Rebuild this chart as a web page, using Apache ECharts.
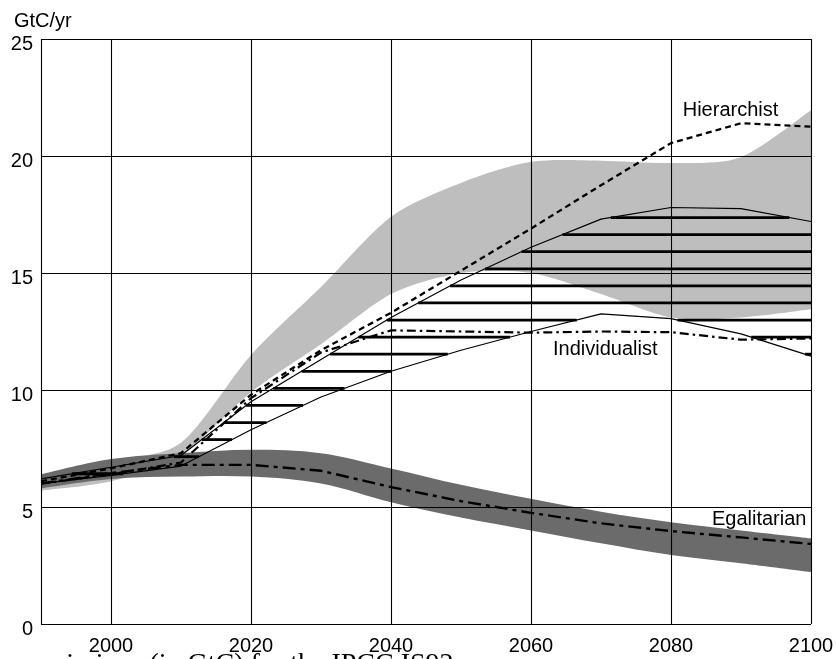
<!DOCTYPE html>
<html>
<head>
<meta charset="utf-8">
<script src="https://cdn.jsdelivr.net/npm/echarts@6/dist/echarts.min.js"></script>
<style>
html,body{margin:0;padding:0;background:#fff;}
#chart{width:837px;height:659px;}
</style>
</head>
<body>
<div id="chart"></div>
<script>
// ---- data ----
const years = [1990, 2000, 2010, 2020, 2030, 2040, 2050, 2060, 2070, 2080, 2090, 2100];

// light grey range
const lightLower = [5.7, 6.1, 7.2, 9.9, 11.95, 14.1, 15.0, 15.0, 14.1, 13.1, 13.1, 13.45];
const lightUpper = [6.3, 7.0, 7.75, 11.5, 14.4, 17.4, 18.85, 19.75, 19.8, 19.7, 19.95, 21.95];

// dark grey range (Egalitarian)
const darkLower = [5.8, 6.2, 6.3, 6.3, 6.0, 5.2, 4.55, 4.0, 3.45, 2.95, 2.6, 2.22];
const darkUpper = [6.4, 7.05, 7.3, 7.45, 7.3, 6.65, 5.95, 5.35, 4.8, 4.35, 4.0, 3.66];

// hatched range boundaries
const hatchUpper = [6.2, 6.7, 7.2, 9.5, 11.3, 13.1, 14.7, 16.1, 17.3, 17.8, 17.75, 17.2];
const hatchLower = [6.0, 6.35, 6.75, 8.3, 9.7, 10.8, 11.7, 12.5, 13.25, 13.05, 12.4, 11.45];
const hatchLevels = [6.42, 7.15, 7.88, 8.61, 9.34, 10.07, 10.8, 11.53, 12.26, 12.99, 13.72, 14.45, 15.18, 15.91, 16.64, 17.37];

// scenario lines
const hierarchist = [6.1, 6.65, 7.3, 9.8, 11.7, 13.3, 15.1, 16.9, 18.75, 20.55, 21.4, 21.25];
const individualist = [6.0, 6.4, 6.9, 9.65, 11.6, 12.55, 12.5, 12.45, 12.5, 12.47, 12.15, 12.2];
const egalitarian = [6.0, 6.45, 6.8, 6.8, 6.55, 5.85, 5.25, 4.75, 4.3, 3.97, 3.7, 3.42];

// axes / grid
const gridYears = [1990, 2000, 2020, 2040, 2060, 2080, 2100];
const gridValues = [0, 5, 10, 15, 20, 25];

// ---- helpers ----
const pairs = arr => years.map((y, i) => [y, arr[i]]);

function linInterval(h0, h1) {
  if (h0 >= 0 && h1 >= 0) return [0, 1];
  if (h0 < 0 && h1 < 0) return null;
  const t = h0 / (h0 - h1);
  return h0 >= 0 ? [0, t] : [t, 1];
}
function hatchSegments(level) {
  const segs = [];
  let cur = null;
  for (let i = 0; i < years.length - 1; i++) {
    const a = linInterval(hatchUpper[i] - level, hatchUpper[i + 1] - level);
    const b = linInterval(level - hatchLower[i], level - hatchLower[i + 1]);
    if (!a || !b) { cur = null; continue; }
    const t0 = Math.max(a[0], b[0]), t1 = Math.min(a[1], b[1]);
    if (t1 <= t0) { cur = null; continue; }
    const x0 = years[i] + t0 * (years[i + 1] - years[i]);
    const x1 = years[i] + t1 * (years[i + 1] - years[i]);
    if (cur && Math.abs(cur[1] - x0) < 1e-6) cur[1] = x1;
    else { cur = [x0, x1, level]; segs.push(cur); }
  }
  return segs;
}
const hatchData = [];
hatchLevels.forEach(l => hatchSegments(l).forEach(s => hatchData.push(s)));

// smooth (Catmull-Rom style) path through pixel points
function smoothPath(pts, s, moveFirst) {
  let d = (moveFirst ? 'M' : 'L') + pts[0][0] + ' ' + pts[0][1];
  for (let i = 0; i < pts.length - 1; i++) {
    const p0 = pts[Math.max(i - 1, 0)], p1 = pts[i], p2 = pts[i + 1], p3 = pts[Math.min(i + 2, pts.length - 1)];
    const c1 = [p1[0] + (p2[0] - p0[0]) * s, p1[1] + (p2[1] - p0[1]) * s];
    const c2 = [p2[0] - (p3[0] - p1[0]) * s, p2[1] - (p3[1] - p1[1]) * s];
    d += ' C' + c1[0] + ' ' + c1[1] + ' ' + c2[0] + ' ' + c2[1] + ' ' + p2[0] + ' ' + p2[1];
  }
  return d;
}
function bandSeries(lower, upper, color, z, s) {
  return {
    type: 'custom', z: z, silent: true,
    data: [[years[0], lower[0]]], encode: {x: 0, y: 1},
    renderItem: (params, api) => {
      const top = years.map((y, i) => api.coord([y, upper[i]]));
      const bot = years.map((y, i) => api.coord([y, lower[i]])).reverse();
      const d = smoothPath(top, s, true) + ' ' + smoothPath(bot, s, false) + ' Z';
      return {type: 'path', shape: {pathData: d}, style: {fill: color}};
    }
  };
}

const FONT = '"Liberation Sans", Arial, Helvetica, sans-serif';

const chart = echarts.init(document.getElementById('chart'), null, {renderer: 'canvas'});
chart.setOption({
  animation: false,
  backgroundColor: '#fff',
  title: {
    text: 'GtC/yr', left: 9, top: 6,
    textStyle: {fontSize: 20, fontWeight: 'normal', color: '#000', fontFamily: FONT}
  },
  grid: {left: 41, right: 26, top: 39, bottom: 35},
  xAxis: {
    type: 'value', min: 1990, max: 2100, interval: 10,
    axisLine: {show: false}, axisTick: {show: false}, splitLine: {show: false},
    axisLabel: {
      color: '#000', fontSize: 20, fontFamily: FONT, margin: 12,
      formatter: v => (v % 20 === 0 ? String(v) : '')
    }
  },
  yAxis: {
    type: 'value', min: 0, max: 25, interval: 5,
    axisLine: {show: false}, axisTick: {show: false}, splitLine: {show: false},
    axisLabel: {color: '#000', fontSize: 20, fontFamily: FONT, margin: 8, verticalAlign: 'top', lineHeight: 10}
  },
  series: [
    bandSeries(lightLower, lightUpper, '#bebebe', 1, 0.14),
    bandSeries(darkLower, darkUpper, '#6b6b6b', 2, 0.17),
    // hatch lines
    {
      type: 'custom', data: hatchData, encode: {x: [0, 1], y: 2}, z: 3, silent: true,
      renderItem: (params, api) => {
        const p1 = api.coord([api.value(0), api.value(2)]);
        const p2 = api.coord([api.value(1), api.value(2)]);
        return {type: 'line', shape: {x1: p1[0], y1: p1[1], x2: p2[0], y2: p2[1]},
                style: {stroke: '#000', lineWidth: 2.8, lineCap: 'butt'}};
      }
    },
    // hatch boundaries (+ grid lines drawn above the bands)
    {type: 'line', data: pairs(hatchUpper), symbol: 'none', z: 4, silent: true,
     lineStyle: {color: '#000', width: 1.2},
     markLine: {
        silent: true, symbol: 'none', z: 6, animation: false,
        label: {show: false},
        lineStyle: {color: '#000', width: 1.1, type: 'solid'},
        data: gridYears.map(y => ({xAxis: y})).concat(gridValues.map(v => ({yAxis: v})))
     }},
    {type: 'line', data: pairs(hatchLower), symbol: 'none', z: 4, silent: true,
     lineStyle: {color: '#000', width: 1.2}},
    // Hierarchist
    {
      type: 'line', data: pairs(hierarchist), symbol: 'none', z: 5, silent: true,
      lineStyle: {color: '#000', width: 2.3, type: [6, 4]},
      markPoint: {
        symbol: 'circle', symbolSize: 0, silent: true,
        label: {show: true, position: 'inside', formatter: 'Hierarchist', color: '#000', fontSize: 20, fontFamily: FONT},
        data: [{coord: [2088.5, 21.95]}]
      }
    },
    // Individualist
    {
      type: 'line', data: pairs(individualist), symbol: 'none', z: 5, silent: true,
      lineStyle: {color: '#000', width: 2.2, type: [9, 4, 2.5, 4]},
      markPoint: {
        symbol: 'circle', symbolSize: 0, silent: true,
        label: {show: true, position: 'inside', formatter: 'Individualist', color: '#000', fontSize: 20, fontFamily: FONT},
        data: [{coord: [2070.6, 11.75]}]
      }
    },
    // Egalitarian
    {
      type: 'line', data: pairs(egalitarian), symbol: 'none', z: 5, silent: true,
      lineStyle: {color: '#000', width: 2.4, type: [13, 5, 4, 5]},
      markPoint: {
        symbol: 'circle', symbolSize: 0, silent: true,
        label: {show: true, position: 'inside', formatter: 'Egalitarian', color: '#000', fontSize: 20, fontFamily: FONT},
        data: [{coord: [2092.6, 4.45]}]
      }
    }
  ],
  graphic: [{
    type: 'text', left: 32, top: 651, silent: true,
    style: {text: 'emissions (in GtC) for the IPCC IS92', fill: '#000', fontSize: 28, fontFamily: '"Liberation Serif", "Times New Roman", serif'}
  }]
});
</script>
</body>
</html>
